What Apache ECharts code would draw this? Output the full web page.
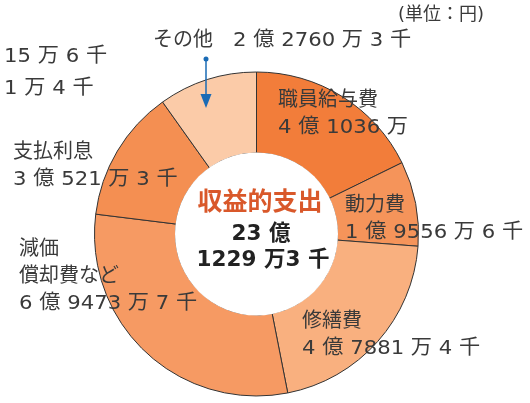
<!DOCTYPE html>
<html>
<head>
<meta charset="utf-8">
<script src="https://cdn.jsdelivr.net/npm/echarts@6/dist/echarts.min.js"></script>
<style>
  html, body { margin: 0; padding: 0; background: #fff; }
  #chart { width: 530px; height: 403px; }
</style>
</head>
<body>
<div id="chart"></div>
<script>
// 収益的支出の内訳（単位：万円）
const names = ['職員給与費', '動力費', '修繕費', '減価\n償却費など', '支払利息', 'その他'];
const values = [41036, 19556.6, 47881.4, 69473.7, 30521.3, 22760.3];
const valueLabels = ['4 億 1036 万', '1 億 9556 万 6 千', '4 億 7881 万 4 千', '6 億 9473 万 7 千', '3 億 521 万 3 千', '2 億 2760 万 3 千'];
const extraLabels = ['15 万 6 千', '1 万 4 千'];
const centerTitle = '収益的支出';
const totalLines = ['23 億', '1229 万3 千'];
const unitLabel = '(単位：円)';

const colors = ['#f27d3a', '#f5945a', '#f9b07f', '#f69a63', '#f48f52', '#fbcba8'];
// ラベル1行目の左端・中心y
const labelPos = [[278, 101], [345, 206], [302, 322], [19, 250], [13, 153], [153, 41]];

const FONT = '"DejaVu Sans", "Noto Sans CJK JP", sans-serif';
const TXT = '#3a3a3a';
const LH = 27;

const chart = echarts.init(document.getElementById('chart'));

const pieData = names.map((n, i) => ({
    name: n,
    value: values[i],
    itemStyle: { color: colors[i] }
}));

function textLine(str, x, y, wide) {
    return {
        type: 'text', x: x, y: y, z: 10,
        scaleX: wide ? 1.06 : 1,
        style: { text: str, font: '20px ' + FONT, fill: TXT, align: 'left', verticalAlign: 'middle' }
    };
}

// 各項目のラベル
const labelGraphics = [];
names.forEach((n, i) => {
    const [x, y] = labelPos[i];
    if (i === 5) {
        labelGraphics.push(textLine(n, x, y, false));
        labelGraphics.push(textLine(valueLabels[i], x + 80, y, true));
        return;
    }
    const lines = n.split('\n');
    lines.forEach((l, k) => labelGraphics.push(textLine(l, x, y + k * LH, false)));
    labelGraphics.push(textLine(valueLabels[i], x, y + lines.length * LH, true));
});

const option = {
    animation: false,
    series: [
        {
            type: 'pie',
            center: [256.5, 234],
            radius: [81, 162],
            startAngle: 90,
            clockwise: true,
            silent: true,
            itemStyle: { borderColor: '#333', borderWidth: 1 },
            label: { show: false },
            labelLine: { show: false },
            data: pieData
        },
        {
            type: 'pie',
            center: [256.5, 234],
            radius: [0, 81.5],
            silent: true,
            label: { show: false },
            itemStyle: { color: '#fff' },
            data: [{ value: 1 }]
        }
    ],
    graphic: labelGraphics.concat([
        { type: 'text', x: 398, y: 15, style: { text: unitLabel, font: '18px ' + FONT, fill: TXT, verticalAlign: 'middle' } },
        textLine(extraLabels[0], 4, 57, true),
        textLine(extraLabels[1], 4, 89, true),
        // その他への矢印
        { type: 'circle', shape: { cx: 206, cy: 59, r: 2.5 }, style: { fill: '#1a6bb5' }, z: 10 },
        { type: 'line', shape: { x1: 206, y1: 59, x2: 206, y2: 96 }, style: { stroke: '#1a6bb5', lineWidth: 1.5 }, z: 10 },
        { type: 'polygon', shape: { points: [[200.5, 94], [211.5, 94], [206, 108]] }, style: { fill: '#1a6bb5' }, z: 10 },
        // 中央テキスト
        { type: 'text', x: 260, y: 203, z: 10, style: { text: centerTitle, align: 'center', verticalAlign: 'middle', font: 'bold 25px ' + FONT, fill: '#d9582a' } },
        { type: 'text', x: 261, y: 234, z: 10, style: { text: totalLines[0], align: 'center', verticalAlign: 'middle', font: 'bold 21.5px ' + FONT, fill: '#222' } },
        { type: 'text', x: 263, y: 260, z: 10, style: { text: totalLines[1], align: 'center', verticalAlign: 'middle', font: 'bold 21.5px ' + FONT, fill: '#222' } }
    ])
};

chart.setOption(option);
</script>
</body>
</html>
